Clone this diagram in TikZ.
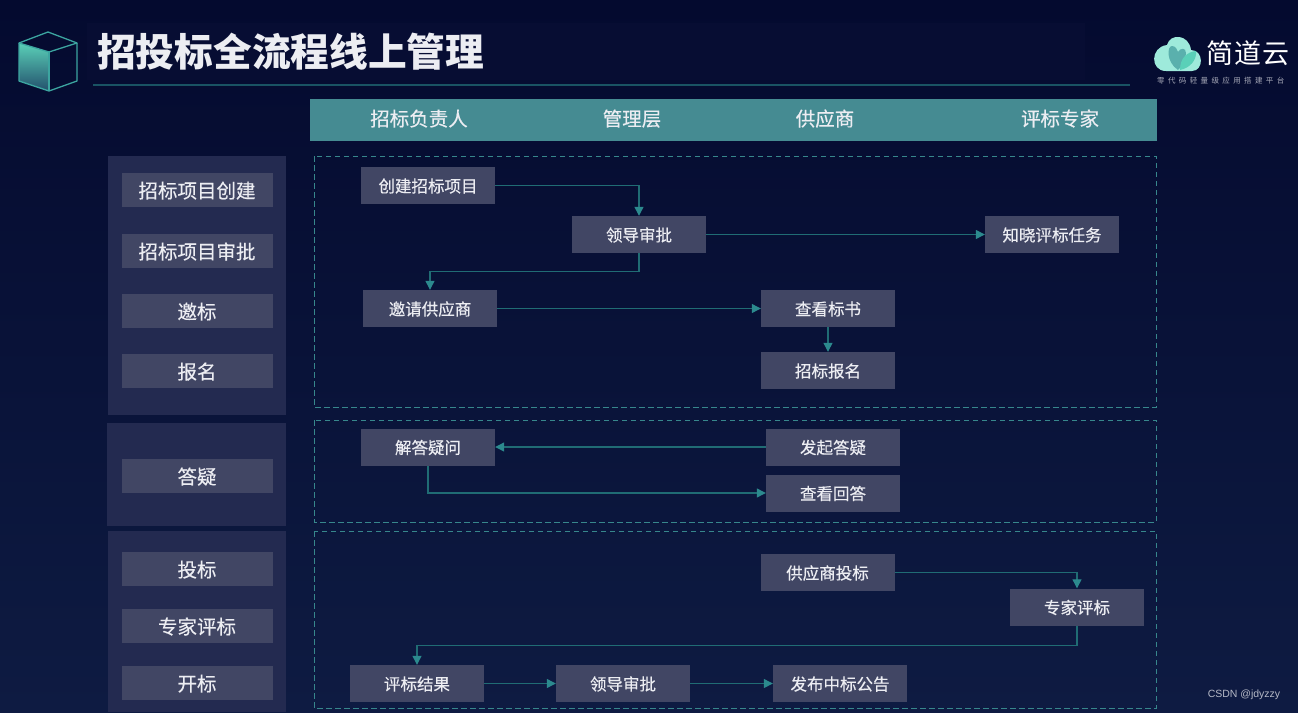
\documentclass[tikz,border=0pt]{standalone}
\usepackage{fontspec}
\setmainfont{Noto Sans CJK SC}
\newfontfamily\latinfont{Liberation Sans}
\usepackage{xcolor}
\usetikzlibrary{arrows.meta, positioning, calc}
\definecolor{BgTop}{RGB}{4, 10, 47}
\definecolor{BgBottom}{RGB}{14, 27, 66}
\definecolor{BandBlue}{RGB}{7, 13, 51}
\definecolor{HeadTeal}{RGB}{69, 139, 146}
\definecolor{PanelGray}{RGB}{35, 42, 80}
\definecolor{BoxGray}{RGB}{65, 70, 100}
\definecolor{LineTeal}{RGB}{32, 108, 116}
\definecolor{TipTeal}{RGB}{44, 138, 142}
\definecolor{DashTeal}{RGB}{55, 135, 140}
\definecolor{TextWhite}{RGB}{236, 237, 242}
\definecolor{CloudMint}{RGB}{158, 234, 219}
\definecolor{CubeTop}{RGB}{90, 208, 184}
\definecolor{CubeBottom}{RGB}{35, 80, 108}
\definecolor{CubeEdge}{RGB}{60, 165, 160}
\tikzset{
    flowbox/.style={fill=BoxGray, text=TextWhite, minimum width=134, minimum height=37, inner sep=0pt, text height=15, text depth=1.4, font=\fontsize{16.5}{18}\selectfont\addfontfeature{FakeBold=0.4}},
    sidebox/.style={fill=BoxGray, text=TextWhite, minimum width=151, minimum height=34, inner sep=0pt, text height=18, text depth=2, font=\fontsize{19.5}{22}\selectfont\addfontfeature{FakeBold=0.4}},
    headtext/.style={text=TextWhite, inner sep=0pt, text height=18, text depth=2, font=\fontsize{19.5}{22}\selectfont\addfontfeature{FakeBold=0.4}},
    flowline/.style={draw=LineTeal, line width=1.2pt, -{Triangle[length=9pt,width=9pt,color=TipTeal]}},
    swimframe/.style={draw=DashTeal, line width=0.9pt, dash pattern=on 5.5pt off 3.5pt},
    sidepanel/.style={fill=PanelGray}
}
\begin{document}
\begin{tikzpicture}[x=1pt, y=-1pt]
        \useasboundingbox (0,0) rectangle (1298,712);
        % Background
        \shade[top color=BgTop, bottom color=BgBottom] (0,0) rectangle (1298,712);
        \fill[BandBlue] (87,23) rectangle (1085,80);

        % Cube
        \fill[top color=CubeTop, bottom color=CubeBottom] (19,43) -- (49,52) -- (49,91) -- (19,81) -- cycle;
        \draw[CubeEdge, line width=1.3pt, line join=round] (19,43) -- (48,32) -- (77,43) -- (49,52) -- cycle;
        \draw[CubeEdge, line width=1.3pt, line join=round] (77,43) -- (77,81) -- (49,91) -- (19,81) -- (19,43);
        \draw[CubeEdge, line width=1.3pt] (49,52) -- (49,91);

        % Title
        \node[text=TextWhite, anchor=west, inner sep=0pt, font=\fontsize{38.7}{42}\selectfont\bfseries] (title) at (97,52) {招投标全流程线上管理};
        \draw[LineTeal!75!BgTop, line width=1.3pt] (93,85) -- (1130,85);

        % Logo
        \fill[CloudMint] (1192,71)
            .. controls (1204,71) and (1204,50) .. (1191,50)
            .. controls (1189,34) and (1170,33) .. (1167,45)
            .. controls (1150,47) and (1150,71) .. (1166,71) -- cycle;
        \fill[TipTeal!60!CloudMint] (1178,70) .. controls (1166,62) and (1167,46) .. (1172,46)
            .. controls (1176,46) and (1177,50) .. (1178,52)
            .. controls (1180,48) and (1186,47) .. (1186,53)
            .. controls (1186,60) and (1182,66) .. (1178,70) -- cycle;
        \fill[CubeTop] (1180,70) .. controls (1180,58) and (1187,52) .. (1196,51)
            .. controls (1197,60) and (1190,68) .. (1180,70) -- cycle;
        \node[text=white, anchor=west, inner sep=0pt, font=\fontsize{27}{30}\selectfont\addfontfeature{LetterSpace=4}] (logotext) at (1206,53) {简道云};
        \node[text=TextWhite!70!BgTop, anchor=west, inner sep=0pt, font=\fontsize{7.5}{9}\selectfont\addfontfeature{LetterSpace=45}] (logotag) at (1157,81) {零代码轻量级应用搭建平台};

        % Header
        \fill[HeadTeal] (310,99) rectangle (1157,141);
        \foreach \x/\role/\txt in {419/lead/招标负责人, 632/mgmt/管理层, 825/supplier/供应商, 1060/judge/评标专家} {
            \node[headtext] (\role) at (\x,118) {\txt};
        }

        % Side panels
        \fill[sidepanel] (108,156) rectangle (286,415);
        \fill[sidepanel] (107,423) rectangle (286,526);
        \fill[sidepanel] (108,531) rectangle (286,712);
        \foreach \y/\stage/\txt in {190/s1/招标项目创建, 251/s2/招标项目审批, 311/s3/邀标, 371/s4/报名, 476/s5/答疑, 569/s6/投标, 626/s7/专家评标, 683/s8/开标} {
            \node[sidebox] (\stage) at (197,\y) {\txt};
        }

        % Frames
        \draw[swimframe] (314,156) rectangle (1156,407);
        \draw[swimframe] (314,420) rectangle (1156,522);
        \draw[swimframe] (314,531) rectangle (1156,708);

        % Flow boxes
        \node[flowbox] (create) at (428,185.5) {创建招标项目};
        \node[flowbox] (approve) at (639,234.5) {领导审批};
        \node[flowbox] (notify) at (1052,234.5) {知晓评标任务};
        \node[flowbox] (invite) at (430,308.5) {邀请供应商};
        \node[flowbox] (viewbid) at (828,308.5) {查看标书};
        \node[flowbox] (signup) at (828,370.5) {招标报名};
        \node[flowbox] (answer) at (428,447) {解答疑问};
        \node[flowbox] (ask) at (833,447) {发起答疑};
        \node[flowbox] (viewans) at (833,493) {查看回答};
        \node[flowbox] (submit) at (827.5,572.5) {供应商投标};
        \node[flowbox] (expert) at (1077,607) {专家评标};
        \node[flowbox] (result) at (417,683.5) {评标结果};
        \node[flowbox] (recheck) at (623,683.5) {领导审批};
        \node[flowbox] (publish) at (840,683.5) {发布中标公告};

        % Connectors
        \draw[flowline] (create.east) -| (approve.north);
        \draw[flowline] (approve.east) -- (notify.west);
        \draw[flowline] (approve.south) |- (639,271.5) -| (invite.north);
        \draw[flowline] (invite.east) -- (viewbid.west);
        \draw[flowline] (viewbid.south) -- (signup.north);
        \draw[flowline] (ask.west) -- (answer.east);
        \draw[flowline] (answer.south) |- (viewans.west);
        \draw[flowline] (submit.east) -| (expert.north);
        \draw[flowline] (expert.south) |- (1077,645.5) -| (result.north);
        \draw[flowline] (result.east) -- (recheck.west);
        \draw[flowline] (recheck.east) -- (publish.west);

        % Watermark
        \node[text=TextWhite!75!BgBottom, inner sep=0pt, font=\latinfont\fontsize{10.5}{12}\selectfont] (mark) at (1244,695) {CSDN @jdyzzy};
    \end{tikzpicture}
\end{document}
